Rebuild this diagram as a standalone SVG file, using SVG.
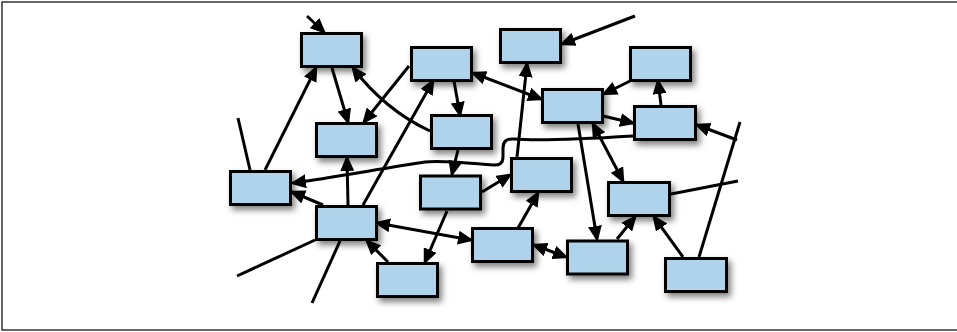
<svg xmlns="http://www.w3.org/2000/svg" width="957" height="332" viewBox="0 0 957 332">
<style>
.n{fill:#afd3ea;stroke:#000;stroke-width:3;filter:url(#sh)}
.c line,.c path{stroke:#000;stroke-width:3;fill:none}
.a{marker-end:url(#ah)}
.b{marker-start:url(#ah);marker-end:url(#ah)}
</style>
<defs>
<filter id="sh" x="-20%" y="-20%" width="150%" height="160%">
<feDropShadow dx="3" dy="4" stdDeviation="3" flood-color="#000" flood-opacity="0.5"/>
</filter>
<marker id="ah" viewBox="0 0 16 14" refX="13" refY="7" markerWidth="16" markerHeight="14" markerUnits="userSpaceOnUse" orient="auto-start-reverse">
<path d="M0,0 L16,7 L0,14 z" fill="#000"/>
</marker>
</defs>
<rect x="2" y="2" width="980" height="328" fill="#fff" stroke="#333" stroke-width="1.5"/>
<g id="connectors" class="c">
<line class="a" x1="307" y1="16" x2="324" y2="32"/>
<line class="a" x1="265" y1="170" x2="316" y2="68"/>
<line class="a" x1="332" y1="68" x2="348" y2="122"/>
<line class="a" x1="409" y1="66" x2="364" y2="122"/>
<path class="a" d="M430,131 Q385,110 353,68"/>
<line class="a" x1="454" y1="81" x2="460" y2="115"/>
<line class="a" x1="363" y1="205" x2="433" y2="81"/>
<line x1="238" y1="118" x2="250" y2="170"/>
<line class="a" x1="635" y1="16" x2="562" y2="44"/>
<line class="a" x1="517" y1="157" x2="527" y2="64"/>
<line class="b" x1="473" y1="73" x2="541" y2="99"/>
<line class="a" x1="630" y1="81" x2="604" y2="94"/>
<line class="a" x1="661" y1="105" x2="658" y2="81"/>
<line class="a" x1="603" y1="116" x2="633" y2="123"/>
<line class="a" x1="737" y1="140" x2="697" y2="125"/>
<path class="a" d="M633,136 C600,138 540,141 514,139 Q503,138 503,148 L503,157 Q503,166 493,165 C470,163 440,160 425,162 C385,168 330,178 293,183"/>
<line class="a" x1="578" y1="124" x2="597" y2="239"/>
<line class="b" x1="593" y1="124" x2="623" y2="181"/>
<line class="a" x1="458" y1="150" x2="452" y2="174"/>
<line class="a" x1="348" y1="205" x2="347" y2="158"/>
<line class="a" x1="323" y1="205" x2="292" y2="192"/>
<line class="b" x1="377" y1="223" x2="471" y2="240"/>
<line class="a" x1="388" y1="262" x2="367" y2="241"/>
<line class="a" x1="447" y1="211" x2="425" y2="262"/>
<line x1="315" y1="240" x2="237" y2="276"/>
<line x1="340" y1="241" x2="312" y2="303"/>
<line class="a" x1="482" y1="192" x2="510" y2="175"/>
<line class="a" x1="518" y1="228" x2="538" y2="193"/>
<line class="b" x1="534" y1="245" x2="566" y2="257"/>
<line class="a" x1="617" y1="239" x2="635" y2="217"/>
<line class="a" x1="683" y1="257" x2="654" y2="217"/>
<line x1="671" y1="194" x2="738" y2="181"/>
<line x1="699" y1="257" x2="740" y2="122"/>
</g>
<g id="nA"><rect class="n" x="301.5" y="33.5" width="60" height="33"/></g>
<g id="nB"><rect class="n" x="411.5" y="47.5" width="60" height="33"/></g>
<g id="nC"><rect class="n" x="500.5" y="29.5" width="60" height="33"/></g>
<g id="nD"><rect class="n" x="630.5" y="47.5" width="60" height="33"/></g>
<g id="nE"><rect class="n" x="542.5" y="89.5" width="60" height="33"/></g>
<g id="nF"><rect class="n" x="634.5" y="106.5" width="61" height="33"/></g>
<g id="nG"><rect class="n" x="316.5" y="123.5" width="60" height="33"/></g>
<g id="nH"><rect class="n" x="431.5" y="115.5" width="60" height="33"/></g>
<g id="nI"><rect class="n" x="230.5" y="171.5" width="60" height="33"/></g>
<g id="nJ"><rect class="n" x="511.5" y="158.5" width="60" height="33"/></g>
<g id="nK"><rect class="n" x="420.5" y="176" width="60" height="33"/></g>
<g id="nL"><rect class="n" x="608.5" y="182.5" width="61" height="33"/></g>
<g id="nM"><rect class="n" x="316.5" y="206.5" width="60" height="33"/></g>
<g id="nN"><rect class="n" x="472.5" y="228.5" width="60" height="33"/></g>
<g id="nO"><rect class="n" x="567.5" y="241" width="60" height="33"/></g>
<g id="nP"><rect class="n" x="377.5" y="263.5" width="60" height="33"/></g>
<g id="nQ"><rect class="n" x="665.5" y="258.5" width="61" height="33"/></g>
</svg>
